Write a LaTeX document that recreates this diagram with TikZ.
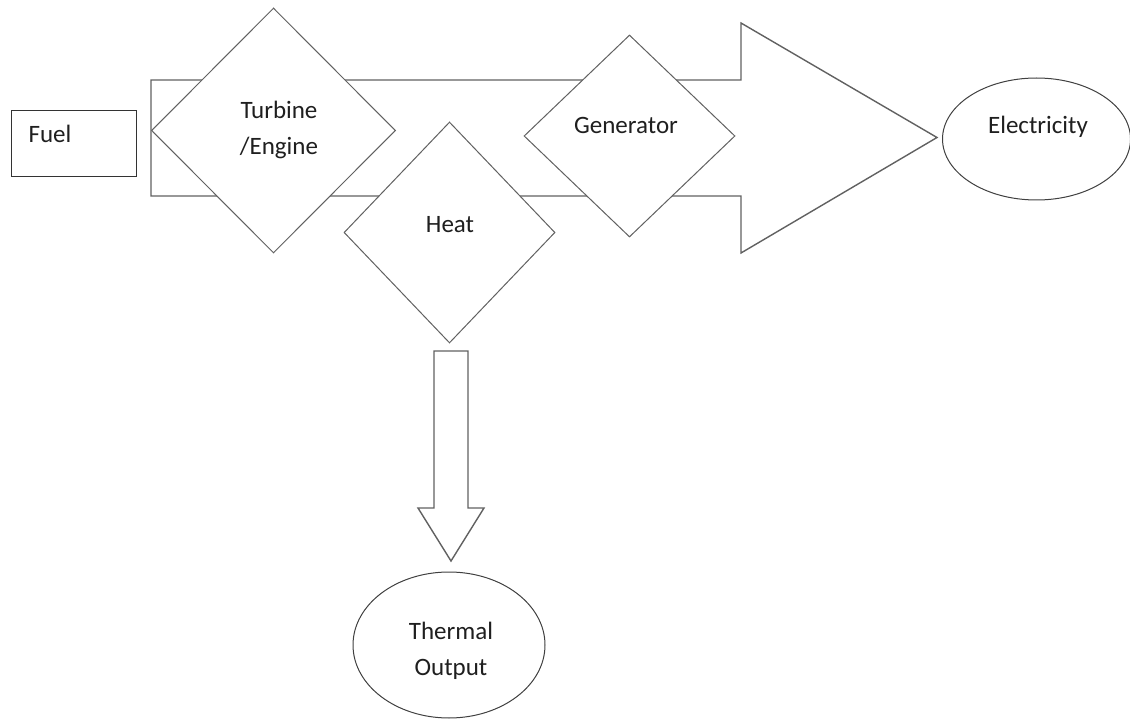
\documentclass[tikz,border=0pt]{standalone}
\usepackage{fontspec}
\setmainfont{Carlito}
\usetikzlibrary{shapes.geometric}
\begin{document}
\begin{tikzpicture}[x=1pt,y=-1pt,
  outl/.style={draw=black!62, line width=1.4pt, fill=white, line join=miter},
  diam/.style={diamond, draw=black!62, line width=1pt, fill=white, inner sep=0pt},
  oval/.style={ellipse, draw=black!75, line width=1pt, fill=white, inner sep=0pt},
  boxed/.style={rectangle, draw=black!80, line width=1pt, fill=white, inner sep=0pt},
  lbl/.style={font=\fontsize{25}{36}\selectfont, text=black!88, align=center, inner sep=0pt}]
\useasboundingbox (0,0) rectangle (1130,719);

% fuel box
\node[boxed, minimum width=125pt, minimum height=66pt] (fuel) at (73.5,144) {};
\node[lbl] (fuelt) at (50,134) {Fuel};

% big arrow towards electricity
\coordinate (ab) at (151,138);
\coordinate (tip) at (937,137.5);
\draw[outl] (151,80) -- (741,80) -- (741,23) -- (tip) -- (741,253) -- (741,196) -- (151,196) -- cycle;

% diamonds
\node[diam, minimum width=244pt, minimum height=245pt] (turb) at (273.5,130.5) {};
\node[lbl] (turbt) at (279,130) {Turbine\\/Engine};

\node[diam, minimum width=211pt, minimum height=221pt] (heat) at (449.5,232.5) {};
\node[lbl] (heatt) at (450,225) {Heat};

\node[diam, minimum width=211pt, minimum height=202pt] (gen) at (629.5,136) {};
\node[lbl] (gent) at (626,125) {Generator};

% electricity
\node[oval, minimum width=188pt, minimum height=122pt] (elec) at (1036.5,139) {};
\node[lbl] (elect) at (1038,127) {Electricity};

% down arrow to thermal output
\coordinate (dtop) at (451,351);
\coordinate (dtip) at (451,561);
\draw[outl] (434,351) -- (468,351) -- (468,508) -- (484,508) -- (dtip) -- (418,508) -- (434,508) -- cycle;

% thermal output
\node[oval, minimum width=192pt, minimum height=146pt] (therm) at (449,645) {};
\node[lbl] (thermt) at (451,651) {Thermal\\Output};
\end{tikzpicture}
\end{document}
